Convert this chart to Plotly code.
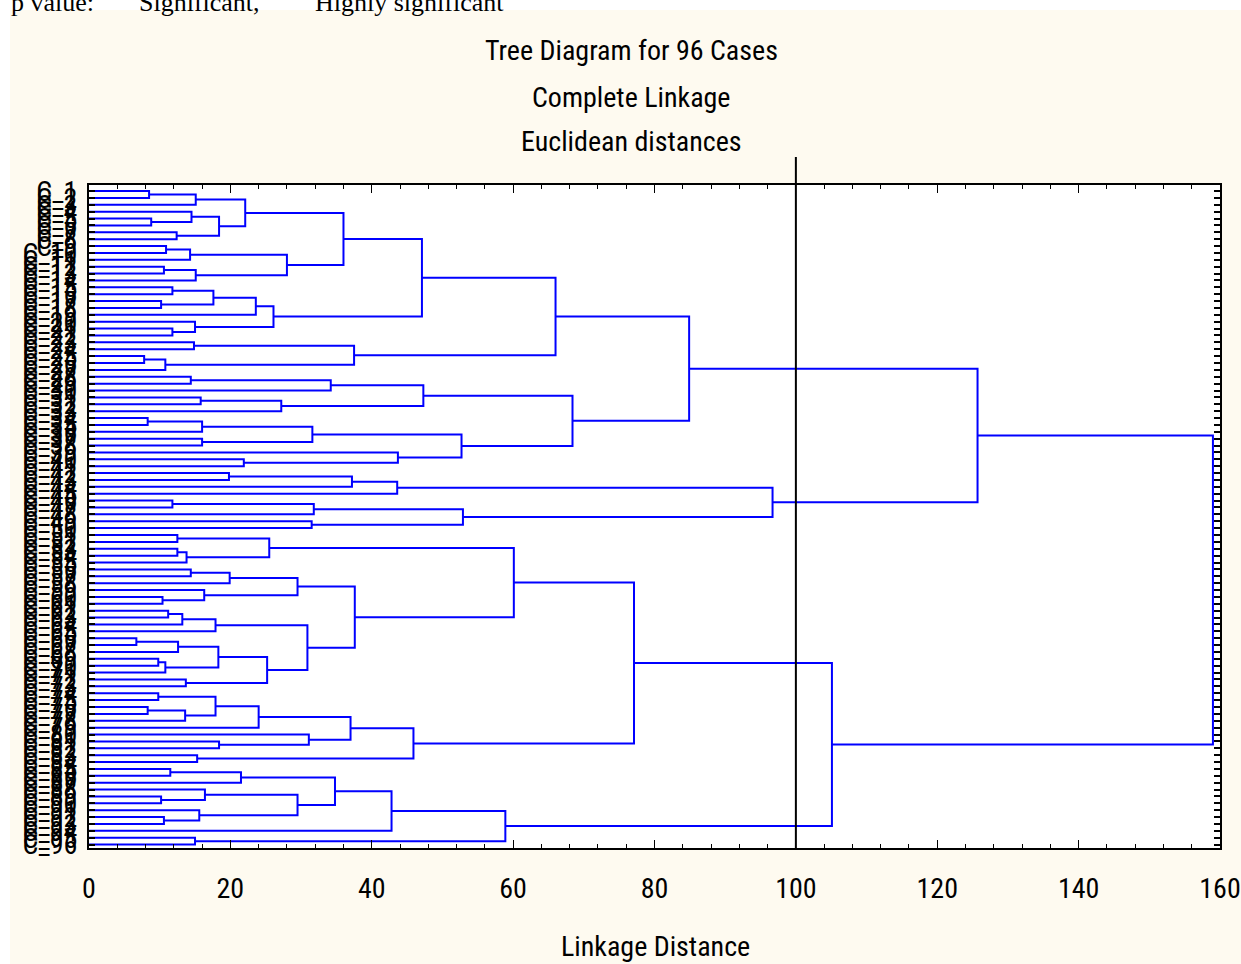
import plotly.graph_objects as go

# ---------------- data ----------------
n_leaves = 96
leaf_labels = ["C_%d" % (i + 1) for i in range(n_leaves)]

# linkage: node ids 0..95 are leaves (top to bottom), 96+ are merges in order
merge_a = [0, 96, 4, 3, 6, 99, 97, 8, 103, 11, 105, 104, 102,
           14, 16, 109, 111, 20, 19, 112, 108,
           22, 24, 118, 117, 116,
           27, 122, 30, 124, 123,
           33, 127, 36, 128, 39, 38, 130, 126, 121,
           41, 136, 137, 45, 139, 48, 140, 138, 135,
           50, 52, 146, 145,
           55, 149, 59, 58, 150,
           61, 154, 155,
           65, 157, 68, 159, 158, 71, 161, 156, 153, 148,
           73, 75, 168, 167, 170, 80, 79, 171, 82, 174, 166,
           84, 178, 88, 87, 91, 90, 181, 179, 185, 94, 186, 177, 144]
merge_b = [1, 2, 5, 98, 7, 100, 101, 9, 10, 12, 13, 106, 107,
           15, 17, 110, 18, 21, 113, 114, 115,
           23, 25, 26, 119, 120,
           28, 29, 31, 32, 125,
           34, 35, 37, 129, 40, 131, 132, 133, 134,
           42, 43, 44, 46, 47, 49, 141, 142, 143,
           51, 53, 54, 147,
           56, 57, 60, 151, 152,
           62, 63, 64,
           66, 67, 69, 70, 160, 72, 162, 163, 164, 165,
           74, 76, 77, 169, 78, 81, 172, 173, 83, 175, 176,
           85, 86, 89, 180, 92, 182, 183, 184, 93, 95, 187, 188, 189]
merge_h = [8.5, 15.1, 8.8, 14.5, 12.4, 18.4, 22.1, 10.9, 14.3, 10.6, 15.1, 28.0, 36.0,
           11.8, 10.2, 17.6, 23.6, 11.8, 15.0, 26.1, 47.1,
           14.85, 7.8, 10.8, 37.5, 66.0,
           14.4, 34.2, 15.8, 27.2, 47.3,
           8.3, 16.0, 16.0, 31.6, 21.9, 43.7, 52.7, 68.4, 84.9,
           19.8, 37.2, 43.6, 11.8, 31.8, 31.5, 52.9, 96.7, 125.7,
           12.5, 12.5, 13.8, 25.5,
           14.4, 19.9, 10.4, 16.3, 29.5,
           11.2, 13.2, 17.9,
           6.7, 12.6, 9.8, 10.8, 18.3, 13.7, 25.2, 30.9, 37.6, 60.1,
           9.8, 8.3, 13.6, 17.9, 24.0, 18.4, 31.1, 37.0, 15.3, 45.9, 77.1,
           11.5, 21.5, 10.2, 16.4, 10.6, 15.6, 29.5, 34.8, 42.8, 15.0, 58.9, 105.1, 159.0]

x_ticks = [0, 20, 40, 60, 80, 100, 120, 140, 160]
ref_line_x = 100

title_lines = ["Tree Diagram for 96 Cases", "Complete Linkage", "Euclidean distances"]
x_title = "Linkage Distance"
header_texts = ["p value:", "Significant,", "Highly significant"]

# ---------------- geometry helpers ----------------
W, H = 1241, 964
PL, PR, PT, PB = 89, 1220, 185, 848


def px(xp):
    return (xp - PL) / (PR - PL)


def py(yp):
    return (PB - yp) / (PB - PT)


# ---------------- build dendrogram path ----------------
pos = {i: float(i) for i in range(n_leaves)}
hgt = {i: 0.0 for i in range(n_leaves)}
xs, ys = [], []
for k, (a, b, hh) in enumerate(zip(merge_a, merge_b, merge_h)):
    nid = n_leaves + k
    xs += [hgt[a], hh, hh, hgt[b], None]
    ys += [pos[a], pos[a], pos[b], pos[b], None]
    pos[nid] = (pos[a] + pos[b]) / 2.0
    hgt[nid] = hh

NARROW = "Roboto Condensed, Liberation Sans Narrow, Arial Narrow, sans-serif"
SERIF = "Liberation Serif, Times New Roman, serif"

fig = go.Figure()
fig.add_trace(go.Scatter(x=xs, y=ys, mode="lines",
                         line=dict(color="#0000FF", width=2),
                         hoverinfo="skip", showlegend=False))

y_top = (PT - 191) / 6.88
y_bot = (PB - 191) / 6.88

fig.update_layout(
    width=W, height=H, autosize=False,
    margin=dict(l=PL, r=W - PR, t=PT, b=H - PB, pad=0, autoexpand=False),
    paper_bgcolor="white",
    plot_bgcolor="rgba(0,0,0,0)",
    showlegend=False,
    xaxis=dict(range=[0, 160], tickvals=x_ticks, ticktext=[str(v) for v in x_ticks],
               automargin=False,
               showgrid=False, zeroline=False, showline=True, linecolor="black",
               linewidth=2, mirror="ticks", ticks="inside", ticklen=8, tickwidth=1,
               tickcolor="black",
               minor=dict(dtick=4, tick0=0, ticks="inside", ticklen=4, tickwidth=1,
                          tickcolor="black", showgrid=False),
               tickfont=dict(family=NARROW, size=28, color="black"),
               ticklabelstandoff=14),
    yaxis=dict(range=[y_bot, y_top], tickvals=list(range(n_leaves)), ticktext=leaf_labels,
               automargin=False,
               showgrid=False, zeroline=False, showline=True, linecolor="black",
               linewidth=2, mirror="ticks", ticks="inside", ticklen=6, tickwidth=2,
               tickcolor="black",
               tickfont=dict(family=NARROW, size=28, color="black"),
               ticklabelstandoff=4),
)

shapes = [
    dict(type="rect", xref="paper", yref="paper", x0=px(10), x1=px(W + 5), y0=py(H + 5), y1=py(10),
         fillcolor="#FEFAF0", line=dict(width=0), layer="below"),
    dict(type="rect", xref="paper", yref="paper", x0=0, x1=1, y0=0, y1=1,
         fillcolor="white", line=dict(width=0), layer="below"),
    dict(type="line", xref="paper", yref="paper", x0=ref_line_x / 160, x1=ref_line_x / 160,
         y0=0, y1=py(157), line=dict(color="black", width=2)),
]
fig.update_layout(shapes=shapes)

ann = []
for txt, yp in zip(title_lines, [50, 97, 141]):
    ann.append(dict(text=txt, xref="paper", yref="paper", x=px(631), y=py(yp),
                    xanchor="center", yanchor="middle", showarrow=False,
                    font=dict(family=NARROW, size=28, color="black")))
ann.append(dict(text=x_title, xref="paper", yref="paper", x=px(655), y=py(946),
                xanchor="center", yanchor="middle", showarrow=False,
                font=dict(family=NARROW, size=28, color="black")))
for txt, xp in zip(header_texts, [9, 137, 313]):
    ann.append(dict(text=txt, xref="paper", yref="paper", x=px(xp), y=py(2),
                    xanchor="left", yanchor="middle", showarrow=False,
                    font=dict(family=SERIF, size=26, color="black")))
fig.update_layout(annotations=ann)

fig.write_html("out.html", config={"displayModeBar": False},
               post_script="document.body.style.margin='0px';document.body.style.overflow='hidden';")
